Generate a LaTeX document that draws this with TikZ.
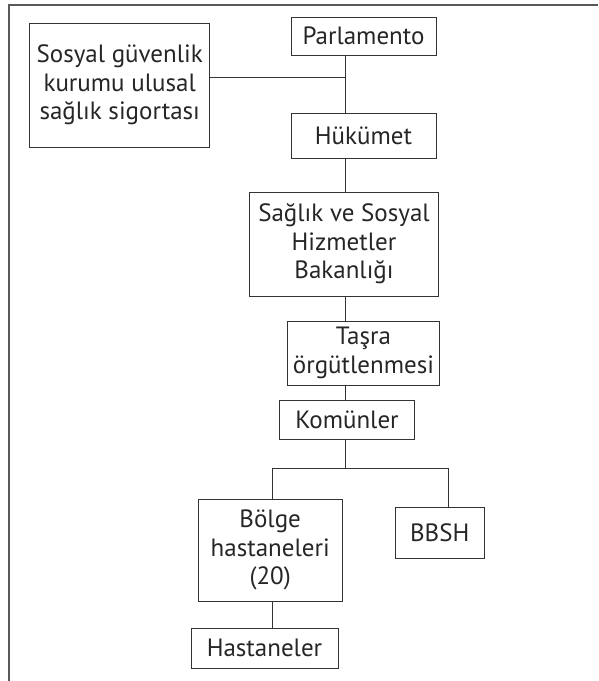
\documentclass[tikz,border=0pt]{standalone}
\usepackage{fontspec}
\setmainfont{PT Sans}
\begin{document}
\begin{tikzpicture}[x=1pt,y=1pt,
  box/.style={draw=black!80, line width=0.9pt, align=center, inner sep=0pt,
    font=\fontsize{25}{28.5}\selectfont, text=black!85},
  conn/.style={draw=black!80, line width=0.9pt},
  frame/.style={draw=black!65, line width=1.4pt}]
\useasboundingbox (0,0) rectangle (598,-681);
\fill[white] (0,0) rectangle (598,-681);
% frame
\draw[frame] (9,-681) -- (9,-5) -- (598,-5);
% nodes
\node[box, minimum width=145, minimum height=38] (parl) at (363.5,-36) {Parlamento};
\node[box, minimum width=180, minimum height=124] (sos) at (119.7,-85) {Sosyal güvenlik\\kurumu ulusal\\sağlık sigortası};
\node[box, minimum width=145, minimum height=45] (huk) at (363.5,-135.5) {Hükümet};
\node[box, minimum width=189, minimum height=104] (sag) at (344,-244) {Sağlık ve Sosyal\\Hizmetler\\Bakanlığı};
\node[box, minimum width=152, minimum height=64] (tas) at (363.5,-353) {Taşra\\örgütlenmesi};
\node[box, minimum width=135, minimum height=39] (kom) at (347,-419.5) {Komünler};
\node[box, minimum width=144, minimum height=102] (bol) at (270.2,-550) {Bölge\\hastaneleri\\(20)};
\node[box, minimum width=89, minimum height=51] (bbsh) at (439.7,-532.5) {BBSH};
\node[box, minimum width=147, minimum height=40] (has) at (264.5,-648) {Hastaneler};
% coordinates
\coordinate (t) at (345.8,0);
\coordinate (j) at (345.8,-77);
\coordinate (b) at (345.8,-468);
\coordinate (bl) at (272.5,-468);
\coordinate (br) at (448.8,-468);
% connectors
\draw[conn] (parl.south -| t) -- (huk.north -| t);
\draw[conn] (sos.east |- j) -- (j);
\draw[conn] (huk.south -| t) -- (sag.north -| t);
\draw[conn] (sag.south -| t) -- (tas.north -| t);
\draw[conn] (tas.south -| t) -- (kom.north -| t);
\draw[conn] (kom.south -| t) -- (b);
\draw[conn] (bl) -- (br);
\draw[conn] (bl) -- (bol.north -| bl);
\draw[conn] (br) -- (bbsh.north -| br);
\draw[conn] (bol.south -| bl) -- (has.north -| bl);
\end{tikzpicture}
\end{document}
